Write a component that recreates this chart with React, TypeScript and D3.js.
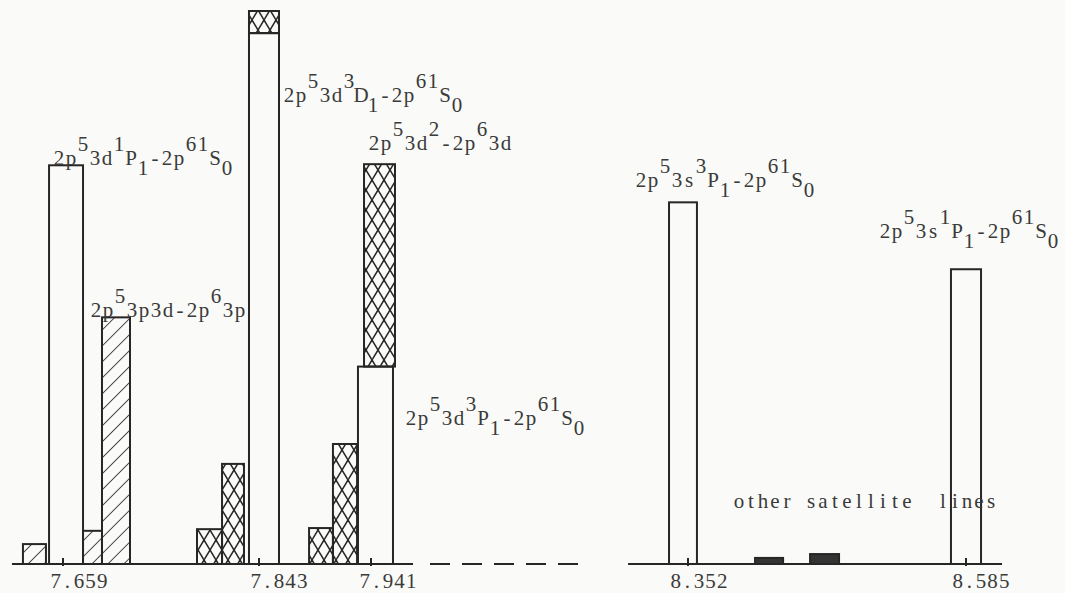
import React from 'react';
import * as d3 from 'd3';

// wavelengths (Å) printed under the broken axis
const tickValues = [7.659, 7.843, 7.941, 8.352, 8.585];

// resonance lines (open bars): wavelength span and relative intensity
const resonanceLo = [7.6459, 7.8336, 7.9296, 8.3274, 8.5724];
const resonanceHi = [7.6778, 7.8605, 7.9695, 8.3595, 8.5976];
const resonanceI = [72.1, 96.0, 35.7, 65.4, 53.3];

// 2p5 3p3d - 2p6 3p satellites (single hatch)
const sat3p3dLo = [7.6214, 7.6778, 7.6956];
const sat3p3dHi = [7.643, 7.6956, 7.7219];
const sat3p3dI = [3.6, 6.0, 44.6];

// 2p5 3d2 - 2p6 3d satellites (cross hatch), some stacked on a resonance line
const sat3d2Lo = [7.7848, 7.8083, 7.8336, 7.8868, 7.9077, 7.9349];
const sat3d2Hi = [7.8083, 7.8289, 7.8605, 7.9077, 7.9288, 7.9721];
const sat3d2Base = [0, 0, 96.0, 0, 0, 35.7];
const sat3d2Top = [6.3, 18.1, 100, 6.5, 21.7, 72.3];

// other satellite lines (solid)
const otherLo = [8.4082, 8.4543];
const otherHi = [8.4317, 8.4786];
const otherI = [1.1, 1.8];

const labelTexts = [
  '2p^{5}3d^{1}P_{1}-2p^{61}S_{0}',
  '2p^{5}3p3d-2p^{6}3p',
  '2p^{5}3d^{3}D_{1}-2p^{61}S_{0}',
  '2p^{5}3d^{2}-2p^{6}3d',
  '2p^{5}3d^{3}P_{1}-2p^{61}S_{0}',
  '2p^{5}3s^{3}P_{1}-2p^{61}S_{0}',
  '2p^{5}3s^{1}P_{1}-2p^{61}S_{0}',
  'other satellite  lines',
];
// label placement (left x, baseline y) in px
const labelPos = [
  [53, 165],
  [90, 317],
  [283, 102],
  [368, 150],
  [405, 425],
  [635, 187],
  [879, 238],
  [733, 508],
];

const W = 1065;
const H = 593;
const INK = '#262626';
const TEXT = '#3a3a3a';
// typewriter look: a serif face set on a fixed pitch
const FONT = '"Liberation Serif", "DejaVu Serif", serif';
const PITCH = 12;

// the axis is not to scale, so it is piecewise linear between the ticks
const x = d3.scaleLinear().domain(tickValues).range([63, 259, 371, 688, 966]);
const y = d3.scaleLinear().domain([0, 100]).range([564, 11]);

function parse(s: string) {
  const out: { t: string; shift: number }[] = [];
  const re = /\^\{([^}]*)\}|_\{([^}]*)\}|([^^_]+)/g;
  let m: RegExpExecArray | null;
  while ((m = re.exec(s))) {
    if (m[1] !== undefined) out.push({ t: m[1], shift: -14 });
    else if (m[2] !== undefined) out.push({ t: m[2], shift: 10 });
    else out.push({ t: m[3], shift: 0 });
  }
  return out;
}

// centre of each character cell on a fixed pitch
const cells = (n: number, start: number, x0: number, pitch: number) =>
  d3.range(n).map((k) => (x0 + (start + k + 0.5) * pitch).toFixed(1)).join(' ');

function Label({ text, px, py }: { text: string; px: number; py: number }) {
  const segs = parse(text);
  let prev = 0;
  let idx = 0;
  return (
    <text
      y={py}
      fontFamily={FONT}
      fontSize={21}
      fill={TEXT}
      textAnchor="middle"
      style={{ whiteSpace: 'pre' }}
    >
      {segs.map((s, i) => {
        const dy = s.shift - prev;
        prev = s.shift;
        const xs = cells(s.t.length, idx, px, PITCH);
        idx += s.t.length;
        return (
          <tspan key={i} x={xs} dy={dy}>
            {s.t}
          </tspan>
        );
      })}
    </text>
  );
}

function Bar({ lo, hi, base, top, fill }: { lo: number; hi: number; base: number; top: number; fill: string }) {
  return (
    <rect
      x={x(lo)}
      y={y(top)}
      width={x(hi) - x(lo)}
      height={y(base) - y(top)}
      fill={fill}
      stroke={INK}
      strokeWidth={2}
    />
  );
}

export default function App() {
  const y0 = y(0);
  return (
    <div style={{ position: 'absolute', left: 0, top: 0 }}>
      <svg width={W} height={H} style={{ display: 'block' }}>
        <defs>
          <pattern id="hatch" width={11.3} height={11.3} patternUnits="userSpaceOnUse" patternTransform="rotate(45)">
            <line x1={0} y1={0} x2={0} y2={11.3} stroke={INK} strokeWidth={1.6} />
          </pattern>
          <pattern id="cross" width={12} height={20} patternUnits="userSpaceOnUse">
            <line x1={0} y1={0} x2={12} y2={20} stroke={INK} strokeWidth={1.5} />
            <line x1={12} y1={0} x2={0} y2={20} stroke={INK} strokeWidth={1.5} />
          </pattern>
        </defs>
        <rect width={W} height={H} fill="#fafaf8" />

        {/* axis: two solid pieces joined by a dashed break */}
        <line x1={x(7.6111)} x2={x(7.9955)} y1={y0} y2={y0} stroke={INK} strokeWidth={2} />
        <line
          x1={x(8.0175)}
          x2={x(8.2159)}
          y1={y0}
          y2={y0}
          stroke={INK}
          strokeWidth={2}
          strokeDasharray="20 12"
        />
        <line x1={x(8.2743)} x2={x(8.6152)} y1={y0} y2={y0} stroke={INK} strokeWidth={2} />

        {resonanceLo.map((lo, i) => (
          <Bar key={'r' + i} lo={lo} hi={resonanceHi[i]} base={0} top={resonanceI[i]} fill="none" />
        ))}
        {sat3p3dLo.map((lo, i) => (
          <Bar key={'h' + i} lo={lo} hi={sat3p3dHi[i]} base={0} top={sat3p3dI[i]} fill="url(#hatch)" />
        ))}
        {sat3d2Lo.map((lo, i) => (
          <Bar key={'c' + i} lo={lo} hi={sat3d2Hi[i]} base={sat3d2Base[i]} top={sat3d2Top[i]} fill="url(#cross)" />
        ))}
        {otherLo.map((lo, i) => (
          <Bar key={'o' + i} lo={lo} hi={otherHi[i]} base={0} top={otherI[i]} fill="#333" />
        ))}

        {tickValues.map((t, i) => {
          const s = d3.format('.3f')(t);
          return (
            <g key={'t' + i}>
              <line x1={x(t)} x2={x(t)} y1={y0 - 6} y2={y0 + 2} stroke={INK} strokeWidth={2} />
              <text
                x={cells(s.length, 0, x(resonanceLo[i]) + 1, 11.6)}
                y={588}
                fontFamily={FONT}
                fontSize={21}
                fill={TEXT}
                textAnchor="middle"
              >
                {s}
              </text>
            </g>
          );
        })}

        {labelTexts.map((t, i) => (
          <Label key={'l' + i} text={t} px={labelPos[i][0]} py={labelPos[i][1]} />
        ))}
      </svg>
    </div>
  );
}
